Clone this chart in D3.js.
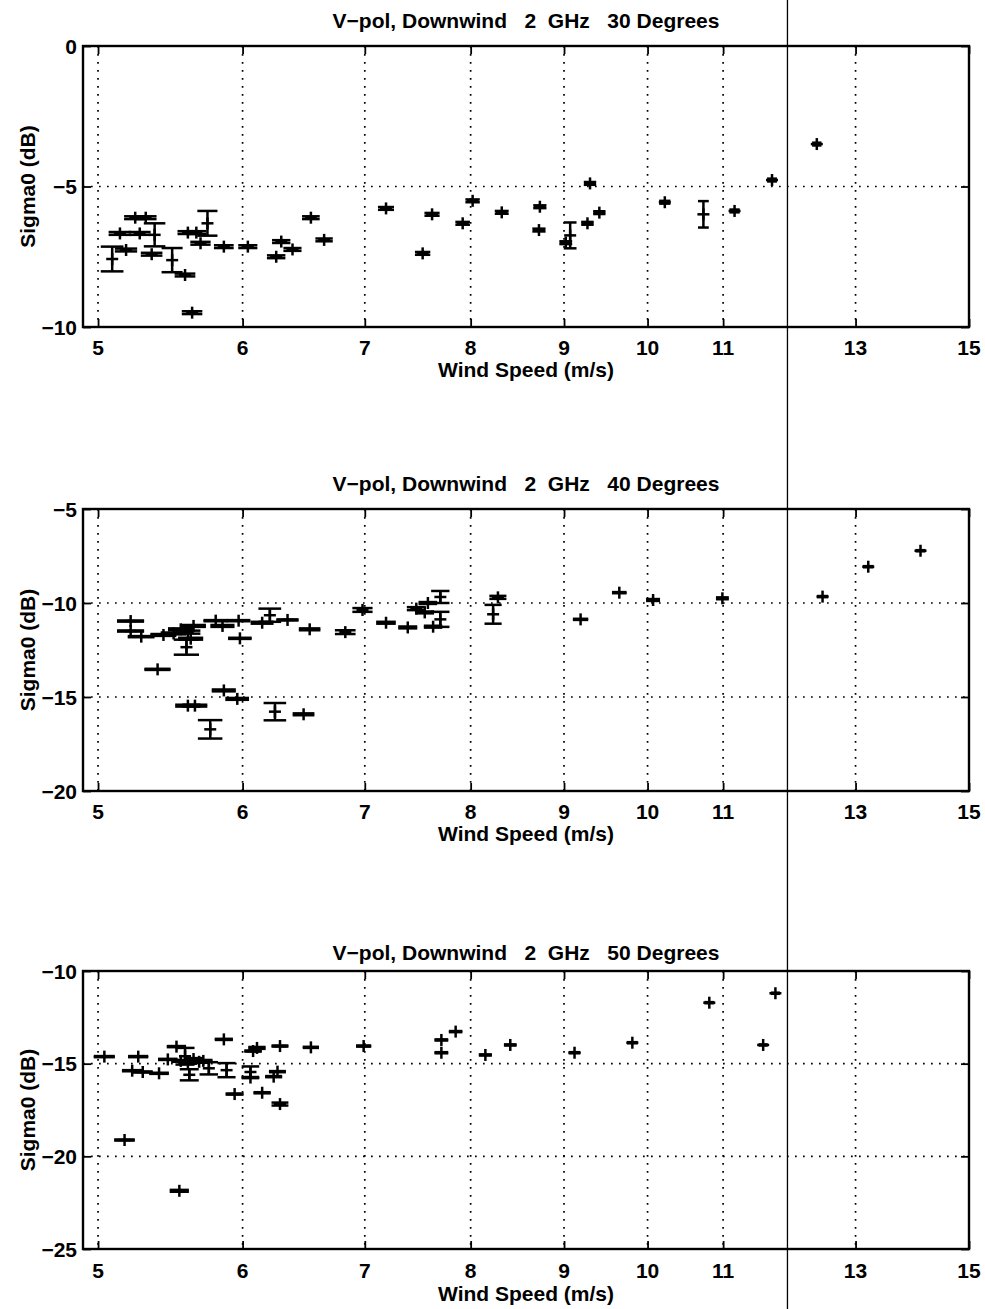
<!DOCTYPE html>
<html><head><meta charset="utf-8">
<script src="https://cdn.jsdelivr.net/npm/d3@7"></script>
<style>
body{margin:0;background:#fff}
svg{display:block}
text{font-family:"Liberation Sans",Arial,Helvetica,sans-serif;fill:#000;font-weight:bold;white-space:pre}
</style>
</head><body><svg id="c" width="985" height="1309"></svg>
<script>
// ---------- data ----------
const xTickValues = [5, 6, 7, 8, 9, 10, 11, 13, 15];
const xDomain = [4.906, 15];
const scanLineSpeed = [11.93];

const titles = [
  "V\u2212pol, Downwind   2  GHz   30 Degrees",
  "V\u2212pol, Downwind   2  GHz   40 Degrees",
  "V\u2212pol, Downwind   2  GHz   50 Degrees"
];
const xLabel = "Wind Speed (m/s)";
const yLabel = "Sigma0 (dB)";

const yTicks30 = [0, -5, -10];
const yTicks40 = [-5, -10, -15, -20];
const yTicks50 = [-10, -15, -20, -25];

const speed30 = [5.09,5.14,5.24,5.31,5.18,5.27,5.37,5.35,5.49,5.58,5.63,5.60,5.66,5.74,5.69,5.86,6.04,6.26,6.30,6.39,6.54,6.65,7.19,7.53,7.62,7.92,8.02,8.32,8.73,8.72,9.07,9.02,9.27,9.30,9.41,10.22,10.73,11.16,11.70,12.38];
const sigma30 = [-7.58,-6.67,-6.11,-6.11,-7.26,-6.67,-6.72,-7.41,-7.62,-8.15,-9.49,-6.64,-6.64,-6.31,-7.02,-7.14,-7.14,-7.50,-6.96,-7.24,-6.11,-6.90,-5.78,-7.38,-5.99,-6.31,-5.51,-5.92,-5.72,-6.55,-6.74,-7.00,-6.31,-4.89,-5.93,-5.56,-5.99,-5.87,-4.77,-3.49];
const err30   = [0.44,0.05,0.05,0.05,0.05,0.05,0.41,0.05,0.43,0.05,0.05,0.05,0.05,0.44,0.05,0.05,0.05,0.05,0.05,0.05,0.05,0.05,0.05,0.05,0.05,0.05,0.05,0.05,0.05,0.05,0.46,0.05,0.05,0.05,0.05,0.05,0.47,0.05,0.05,0.05];

const speed40 = [5.21,5.21,5.28,5.39,5.43,5.50,5.55,5.60,5.64,5.62,5.59,5.80,5.85,5.97,5.98,6.21,6.15,6.35,6.53,6.83,6.98,7.19,7.39,7.47,7.55,7.58,7.63,7.70,7.70,8.28,8.23,9.19,9.65,10.07,10.99,12.47,13.21,14.11,5.60,5.65,5.86,5.96,5.76,6.25,6.48];
const sigma40 = [-10.96,-11.49,-11.79,-13.53,-11.70,-11.62,-11.40,-11.55,-11.22,-11.90,-12.35,-10.94,-11.22,-10.94,-11.88,-10.65,-11.05,-10.90,-11.40,-11.55,-10.37,-11.05,-11.30,-10.30,-10.50,-10.00,-11.26,-9.68,-10.87,-9.70,-10.60,-10.87,-9.45,-9.84,-9.75,-9.66,-8.07,-7.22,-15.46,-15.46,-14.65,-15.10,-16.72,-15.78,-15.92];
const err40   = [0.03,0.03,0.03,0.03,0.05,0.05,0.05,0.08,0.05,0.05,0.40,0.03,0.05,0.03,0.03,0.35,0.05,0.03,0.05,0.10,0.10,0.05,0.05,0.08,0.05,0.05,0.05,0.32,0.40,0.08,0.50,0.03,0.03,0.05,0.05,0.03,0.03,0.03,0.05,0.05,0.05,0.05,0.49,0.46,0.05];

const speed50 = [5.04,5.26,5.22,5.29,5.40,5.17,5.54,5.46,5.52,5.58,5.55,5.60,5.64,5.68,5.61,5.71,5.75,5.88,5.86,5.94,6.06,6.06,6.08,6.11,6.15,6.24,6.27,6.29,6.29,6.54,6.99,7.71,7.71,7.85,8.15,8.41,9.12,9.81,10.81,11.57,11.75];
const sigma50 = [-14.62,-14.62,-15.38,-15.45,-15.52,-19.12,-21.86,-14.77,-14.08,-14.60,-14.85,-14.95,-14.75,-14.90,-15.60,-14.85,-15.25,-15.35,-13.69,-16.64,-15.45,-15.75,-14.32,-14.15,-16.57,-15.70,-15.43,-17.18,-14.05,-14.12,-14.05,-13.72,-14.41,-13.27,-14.53,-13.99,-14.41,-13.87,-11.71,-13.99,-11.20];
const err50   = [0.03,0.03,0.03,0.03,0.03,0.03,0.05,0.03,0.03,0.45,0.05,0.05,0.05,0.05,0.30,0.05,0.33,0.38,0.03,0.03,0.30,0.03,0.03,0.05,0.03,0.03,0.03,0.08,0.03,0.03,0.03,0.03,0.03,0.03,0.03,0.03,0.03,0.03,0.03,0.03,0.03];

// ---------- layout ----------
const svg = d3.select("#c");
const L = 83, R = 969, FS = 21;
const panels = [
  {top:46,  bottom:327,  titleY:28,  tickY:355,  labelY:377, yDom:[-10,0],  yTicks:yTicks30, sp:speed30, sg:sigma30, er:err30, title:titles[0]},
  {top:509, bottom:791,  titleY:491, tickY:819,  labelY:841, yDom:[-20,-5], yTicks:yTicks40, sp:speed40, sg:sigma40, er:err40, title:titles[1]},
  {top:971, bottom:1249, titleY:960, tickY:1278, labelY:1301,yDom:[-25,-10],yTicks:yTicks50, sp:speed50, sg:sigma50, er:err50, title:titles[2]}
];
const x = d3.scaleLog().domain(xDomain).range([L, R]);
const fmt = v => (v < 0 ? "\u2212" + Math.abs(v) : String(v));

panels.forEach(p => {
  const y = d3.scaleLinear().domain(p.yDom).range([p.bottom, p.top]);
  const g = svg.append("g");

  // grid (dotted)
  g.selectAll(".vg").data(xTickValues.filter(v => v > xDomain[0] && v < xDomain[1])).join("line")
    .attr("x1", d => x(d)).attr("x2", d => x(d)).attr("y1", p.top).attr("y2", p.bottom)
    .attr("stroke", "#000").attr("stroke-width", 1.7).attr("stroke-dasharray", "1.7,6.3");
  g.selectAll(".hg").data(p.yTicks.filter(v => v > p.yDom[0] && v < p.yDom[1])).join("line")
    .attr("x1", L).attr("x2", R).attr("y1", d => y(d)).attr("y2", d => y(d))
    .attr("stroke", "#000").attr("stroke-width", 1.7).attr("stroke-dasharray", "1.7,6.3");

  // axes with inward ticks on all sides
  const ax = g.append("g");
  ax.append("g").attr("transform", `translate(0,${p.bottom})`)
    .call(d3.axisBottom(x).tickValues(xTickValues).tickSizeInner(-8).tickSizeOuter(0).tickFormat(""));
  ax.append("g").attr("transform", `translate(0,${p.top})`)
    .call(d3.axisTop(x).tickValues(xTickValues).tickSizeInner(-8).tickSizeOuter(0).tickFormat(""));
  ax.append("g").attr("transform", `translate(${L},0)`)
    .call(d3.axisLeft(y).tickValues(p.yTicks).tickSizeInner(-8).tickSizeOuter(0).tickFormat(""));
  ax.append("g").attr("transform", `translate(${R},0)`)
    .call(d3.axisRight(y).tickValues(p.yTicks).tickSizeInner(-8).tickSizeOuter(0).tickFormat(""));
  ax.selectAll(".domain").remove();
  ax.selectAll(".tick line").attr("stroke", "#000").attr("stroke-width", 1.8);

  // box
  g.append("rect").attr("x", L).attr("y", p.top).attr("width", R - L).attr("height", p.bottom - p.top)
    .attr("fill", "none").attr("stroke", "#000").attr("stroke-width", 2.4);

  // tick labels
  g.selectAll(".xt").data(xTickValues).join("text")
    .attr("x", d => x(d)).attr("y", p.tickY).attr("text-anchor", "middle")
    .attr("font-size", FS).text(d => d);
  g.selectAll(".yt").data(p.yTicks).join("text")
    .attr("x", 77).attr("y", d => y(d) + 7.5).attr("text-anchor", "end")
    .attr("font-size", FS).text(fmt);

  // titles and labels
  g.append("text").attr("x", (L + R) / 2).attr("y", p.titleY).attr("text-anchor", "middle")
    .attr("font-size", FS).text(p.title);
  g.append("text").attr("x", (L + R) / 2).attr("y", p.labelY).attr("text-anchor", "middle")
    .attr("font-size", FS).text(xLabel);
  g.append("text").attr("transform", `translate(35,${(p.top + p.bottom) / 2}) rotate(-90)`)
    .attr("text-anchor", "middle").attr("font-size", FS).text(yLabel);

  // error bars + markers
  const ext = d3.extent(p.sp);
  const tee = (ext[1] - ext[0]) / 100;
  const pts = p.sp.map((s, i) => ({s, v: p.sg[i], e: p.er[i]}));
  const m = g.append("g").attr("stroke", "#000").attr("stroke-width", 2.5).attr("fill", "none");
  const pg = m.selectAll("g").data(pts).join("g");
  pg.append("line").attr("x1", d => x(d.s)).attr("x2", d => x(d.s))
    .attr("y1", d => y(d.v - d.e)).attr("y2", d => y(d.v + d.e));
  pg.append("line").attr("x1", d => x(d.s - tee)).attr("x2", d => x(d.s + tee))
    .attr("y1", d => y(d.v - d.e)).attr("y2", d => y(d.v - d.e));
  pg.append("line").attr("x1", d => x(d.s - tee)).attr("x2", d => x(d.s + tee))
    .attr("y1", d => y(d.v + d.e)).attr("y2", d => y(d.v + d.e));
  pg.append("line").attr("x1", d => x(d.s) - 6).attr("x2", d => x(d.s) + 6)
    .attr("y1", d => y(d.v)).attr("y2", d => y(d.v));
  pg.append("line").attr("x1", d => x(d.s)).attr("x2", d => x(d.s))
    .attr("y1", d => y(d.v) - 6).attr("y2", d => y(d.v) + 6);
});

// full-height scan line
svg.selectAll(".scan").data(scanLineSpeed).join("line")
  .attr("x1", d => x(d)).attr("x2", d => x(d)).attr("y1", 0).attr("y2", 1309)
  .attr("stroke", "#000").attr("stroke-width", 1.3);
</script>
</body></html>
